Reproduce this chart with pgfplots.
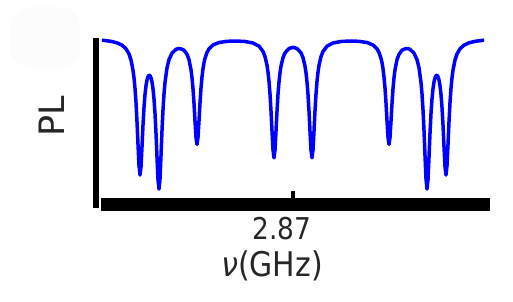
\documentclass[border=0pt]{standalone}
\usepackage{fontspec}
\setmainfont{DejaVu Sans}
\newfontfamily\condfont{DejaVu Sans}[FakeStretch=0.88]
\usepackage{pgfplots}
\pgfplotsset{compat=1.18}
\pgfplotstableread{
x y
2679 .987
2688 .980
2694 .971
2699 .957
2703 .935
2706 .904
2708 .868
2710 .807
2711 .761
2712 .698
2713 .612
2714 .497
2715 .361
2716 .234
2717 .177
2718 .227
2719 .347
2720 .477
2721 .583
2722 .660
2723 .713
2724 .748
2725 .768
2726 .776
2727 .774
2728 .761
2729 .736
2730 .695
2731 .634
2732 .547
2733 .428
2734 .284
2735 .149
2736 .093
2737 .154
2738 .294
2739 .444
2740 .569
2741 .664
2742 .733
2744 .821
2746 .870
2749 .909
2753 .932
2755 .936
2757 .937
2761 .927
2764 .902
2766 .870
2768 .809
2769 .761
2770 .695
2771 .607
2772 .501
2773 .403
2774 .361
2775 .404
2776 .503
2777 .610
2778 .699
2779 .766
2780 .816
2781 .852
2782 .878
2784 .913
2786 .935
2790 .958
2796 .973
2804 .980
2813 .982
2822 .979
2830 .970
2836 .951
2840 .919
2842 .888
2844 .836
2845 .795
2846 .739
2847 .663
2848 .562
2849 .441
2850 .329
2851 .280
2852 .328
2853 .440
2854 .560
2855 .661
2856 .736
2857 .791
2858 .831
2860 .882
2862 .911
2866 .937
2870 .944
2874 .937
2878 .911
2880 .882
2882 .831
2883 .791
2884 .736
2885 .661
2886 .560
2887 .440
2888 .328
2889 .280
2890 .329
2891 .441
2892 .562
2893 .663
2894 .739
2895 .795
2896 .836
2898 .888
2900 .919
2904 .951
2910 .970
2918 .979
2927 .982
2936 .980
2944 .973
2950 .958
2954 .935
2956 .913
2958 .878
2959 .852
2960 .816
2961 .766
2962 .699
2963 .610
2964 .503
2965 .404
2966 .361
2967 .403
2968 .501
2969 .607
2970 .695
2971 .761
2972 .809
2974 .870
2976 .902
2979 .927
2983 .937
2985 .936
2987 .932
2991 .909
2994 .870
2996 .821
2998 .733
2999 .664
3000 .569
3001 .444
3002 .294
3003 .154
3004 .093
3005 .149
3006 .284
3007 .428
3008 .547
3009 .634
3010 .695
3011 .736
3012 .761
3013 .774
3014 .776
3015 .768
3016 .748
3017 .713
3018 .660
3019 .583
3020 .477
3021 .347
3022 .227
3023 .177
3024 .234
3025 .361
3026 .497
3027 .612
3028 .698
3029 .761
3030 .807
3032 .868
3034 .904
3037 .935
3041 .957
3046 .971
3052 .980
3061 .987
}\odmr
\begin{document}
\begin{tikzpicture}
\useasboundingbox (0,0) rectangle (513pt,301pt);
\fill[black!1.2, rounded corners=20pt] (10pt,234pt) rectangle (80pt,294pt);
\begin{axis}[
  at={(96pt,96.5pt)}, anchor=south west,
  scale only axis, width=394pt, height=166.5pt,
  xmin=2673, xmax=3067, ymin=0, ymax=1,
  clip=false,
  axis line style={draw=none},
  ytick=\empty,
  xtick={2870}, xticklabels={2.87},
  xtick pos=left, tick align=inside,
  major tick length=13.5pt,
  tick style={line width=4pt, black},
  xticklabel style={font=\condfont\fontsize{30}{30}\selectfont, anchor=base, yshift=-34.8pt, xshift=-11pt, text=black!85},
  xlabel={{\itshape ν}(GHz)},
  xlabel style={font=\condfont\fontsize{34}{34}\selectfont, at={(axis description cs:0.447,-0.4294)}, anchor=base, text=black!85},
  ylabel={PL},
  ylabel style={font=\fontsize{35}{35}\selectfont, at={(axis description cs:-0.0787,0.5327)}, anchor=base, text=black!85},
]
\addplot[color={rgb,255:red,0;green,0;blue,255}, line width=3.5pt, line join=round] table[x=x, y=y] {\odmr};
\draw[line width=5.5pt, black] (rel axis cs:0,1) -- ([yshift=-3.2pt]rel axis cs:0,0);
\draw[line width=12.5pt, black] (rel axis cs:0.0127,0) -- (rel axis cs:1,0);
\end{axis}
\end{tikzpicture}
\end{document}
